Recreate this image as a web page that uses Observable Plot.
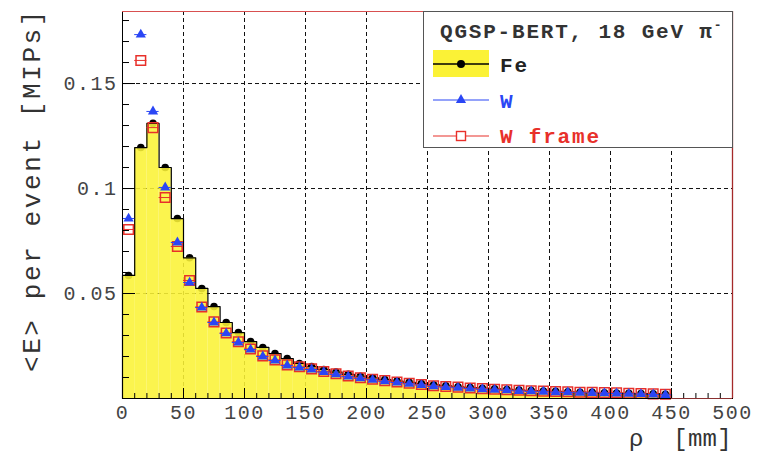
<!DOCTYPE html>
<html><head><meta charset="utf-8">
<script src="https://cdn.jsdelivr.net/npm/d3@7"></script>
<script src="https://cdn.jsdelivr.net/npm/@observablehq/plot@0.6"></script>
<style>body{margin:0;background:#fff;}</style>
</head><body><div id="chart"></div>
<script>
// bins: 10 mm wide, 0..450 mm
const binStart = d3.range(0, 450, 10);
const binWidth = 10;
const fe = [0.0586, 0.1195, 0.131, 0.110, 0.0857, 0.067, 0.0524, 0.0438, 0.0362, 0.0314,
  0.0271, 0.0243, 0.0214, 0.019, 0.0167, 0.0152, 0.0138, 0.0126, 0.0115, 0.0106,
  0.0098, 0.009, 0.0083, 0.0077, 0.0071, 0.0065, 0.006, 0.0056, 0.0052, 0.0049,
  0.0046, 0.0043, 0.004, 0.0038, 0.0036, 0.0034, 0.0032, 0.003, 0.0029, 0.0027,
  0.0026, 0.0025, 0.0023, 0.0022, 0.002];
const w = [0.0857, 0.1733, 0.1367, 0.1005, 0.0743, 0.0552, 0.0433, 0.0362, 0.031, 0.0267,
  0.0233, 0.020, 0.0181, 0.0157, 0.0148, 0.0138, 0.0126, 0.0115, 0.0104, 0.0096,
  0.0089, 0.0082, 0.0076, 0.0070, 0.0064, 0.0058, 0.0054, 0.0051, 0.0047, 0.0044,
  0.0041, 0.0039, 0.0036, 0.0034, 0.0032, 0.0030, 0.0029, 0.0027, 0.0026, 0.0025,
  0.0024, 0.0022, 0.0021, 0.0019, 0.0017];
const wFrame = [0.0805, 0.161, 0.129, 0.0957, 0.0724, 0.0562, 0.0436, 0.0365, 0.0312, 0.027,
  0.0236, 0.0203, 0.0184, 0.016, 0.0151, 0.0141, 0.0129, 0.0118, 0.0107, 0.0099,
  0.0092, 0.0085, 0.0079, 0.0073, 0.0067, 0.0061, 0.0057, 0.0054, 0.005, 0.0047,
  0.0044, 0.0042, 0.0039, 0.0037, 0.0035, 0.0033, 0.0032, 0.003, 0.0029, 0.0028,
  0.0027, 0.0025, 0.0024, 0.0022, 0.002];
const xMajor = [0, 50, 100, 150, 200, 250, 300, 350, 400, 450, 500];
const xMinor = d3.range(0, 501, 10);
const yMajor = [0.05, 0.1, 0.15];
const yMinor = [0.01,0.02,0.03,0.04,0.05,0.06,0.07,0.08,0.09,0.1,0.11,0.12,0.13,0.14,0.15,0.16,0.17,0.18];
const xTitle = "ρ  [mm]";
const yTitle = "<E> per event [MIPs]";
const legendTitle = "QGSP-BERT, 18 GeV π";
const legendLabels = ["Fe", "W", "W frame"];

const YELLOW = "#fbf236", BLUE = "#2a46f5", RED = "#e8302a";
const W_ = 757, H_ = 454, mL = 122, mR = 25, mT = 11, mB = 56;
const fw = W_ - mL - mR, fh = H_ - mT - mB;

const rows = binStart.map((x0, i) => ({x1: x0, x2: x0 + binWidth, xc: x0 + binWidth / 2, fe: fe[i], w: w[i], wf: wFrame[i]}));
const step = [{x: binStart[0], y: 0}, ...rows.flatMap(r => [{x: r.x1, y: r.fe}, {x: r.x2, y: r.fe}]), {x: rows[rows.length - 1].x2, y: 0}];
const yTop = 0.1843;

const plot = Plot.plot({
  width: W_, height: H_, marginLeft: mL, marginRight: mR, marginTop: mT, marginBottom: mB,
  x: {domain: [0, 500]}, y: {domain: [0, yTop]},
  style: {fontFamily: "'Liberation Mono', monospace", fontSize: "20px", color: "#444", background: "#fff", letterSpacing: "1.5px"},
  marks: [
    Plot.ruleX(xMajor.filter(d => d > 0 && d < 500), {x: d => d, stroke: "#111", strokeDasharray: "4,3"}),
    Plot.ruleY(yMajor, {y: d => d, stroke: "#111", strokeDasharray: "4,3"}),
    Plot.dot(rows, {x: "xc", y: "fe", r: 3.8, fill: "#000"}),
    Plot.rectY(rows, {x1: "x1", x2: "x2", y: "fe", fill: YELLOW, fillOpacity: 0.88}),
    Plot.line(step, {x: "x", y: "y", stroke: "#000", strokeWidth: 1.2}),
    Plot.ruleY(rows, {x1: "x1", x2: "x2", y: "wf", stroke: RED, strokeWidth: 1}),
    Plot.dot(rows, {x: "xc", y: "wf", symbol: "square", r: 5.4, stroke: RED, strokeWidth: 1.5, fill: "none"}),
    Plot.ruleY(rows, {x1: "x1", x2: "x2", y: "w", stroke: BLUE, strokeWidth: 1}),
    Plot.dot(rows, {x: "xc", y: "w", symbol: "triangle", r: 3.8, fill: BLUE}),
    Plot.tickX(xMinor, {x: d => d, insetTop: fh - 5, stroke: "#000"}),
    Plot.tickX(xMajor, {x: d => d, insetTop: fh - 10, stroke: "#000"}),
    Plot.tickY(yMinor, {y: d => d, insetRight: fw - 7, stroke: "#000"}),
    Plot.tickY(yMajor, {y: d => d, insetRight: fw - 13, stroke: "#000"}),
    Plot.frame({stroke: "#000"}),
    Plot.ruleY([yTop], {y: d => d, stroke: "#d85050"}),
    Plot.ruleX([500], {x: d => d, stroke: "#a52a2a", strokeWidth: 1.3}),
    Plot.ruleY([0], {y: d => d, x1: 450, x2: 500, stroke: "#8a3030"}),
    Plot.axisX({ticks: xMajor, tickSize: 0, tickPadding: 6, tickFormat: d => String(d), label: null}),
    Plot.axisY({ticks: yMajor, tickSize: 0, tickPadding: 5, tickFormat: d => String(d), label: null})
  ]
});
document.getElementById("chart").appendChild(plot);

const svg = d3.select(plot);
const mono = "'Liberation Mono', monospace";
// axis titles
svg.append("text").attr("x", 732).attr("y", 446).attr("text-anchor", "end")
  .attr("font-family", mono).attr("font-size", 24).attr("fill", "#333").style("letter-spacing", "0.3px").text(xTitle);
svg.append("text").attr("transform", "translate(40,190) rotate(-90)").attr("text-anchor", "middle")
  .attr("font-family", mono).attr("font-size", 26).attr("fill", "#333").style("letter-spacing", "2.6px").text(yTitle);

// legend
const lg = svg.append("g").attr("text-anchor", "start");
lg.append("rect").attr("x", 423.5).attr("y", 11.5).attr("width", 309).attr("height", 136)
  .attr("fill", "#fff").attr("stroke", "#555").attr("stroke-width", 1);
const tt = lg.append("text").attr("x", 440).attr("y", 38).attr("text-anchor", "start").attr("font-family", mono).attr("font-size", 21)
  .attr("fill", "#333").style("letter-spacing", "1.8px").attr("font-weight", "bold");
tt.append("tspan").text(legendTitle);
tt.append("tspan").attr("font-size", 13).attr("dy", -9).text("-");
// Fe
lg.append("rect").attr("x", 433).attr("y", 50).attr("width", 56).attr("height", 27).attr("fill", YELLOW);
lg.append("line").attr("x1", 433).attr("x2", 489).attr("y1", 64).attr("y2", 64).attr("stroke", "#000").attr("stroke-width", 1.3);
lg.append("circle").attr("cx", 461).attr("cy", 64).attr("r", 4).attr("fill", "#000");
// W
lg.append("line").attr("x1", 433).attr("x2", 489).attr("y1", 100).attr("y2", 100).attr("stroke", BLUE).attr("stroke-width", 1.2);
lg.append("path").attr("transform", "translate(461,100)").attr("d", d3.symbol(d3.symbolTriangle, 45)()).attr("fill", BLUE);
// W frame
lg.append("line").attr("x1", 433).attr("x2", 489).attr("y1", 136).attr("y2", 136).attr("stroke", RED).attr("stroke-width", 1.2);
lg.append("rect").attr("x", 456.5).attr("y", 131.5).attr("width", 9).attr("height", 9).attr("fill", "#fff").attr("stroke", RED).attr("stroke-width", 1.4);
const colors = ["#222", BLUE, RED], ys = [72, 108, 143];
legendLabels.forEach((t, i) => {
  lg.append("text").attr("x", 500).attr("y", ys[i]).attr("text-anchor", "start").attr("font-family", mono).attr("font-size", 21)
    .attr("font-weight", "bold").attr("fill", colors[i]).style("letter-spacing", "1.8px").text(t);
});
</script>
</body></html>
